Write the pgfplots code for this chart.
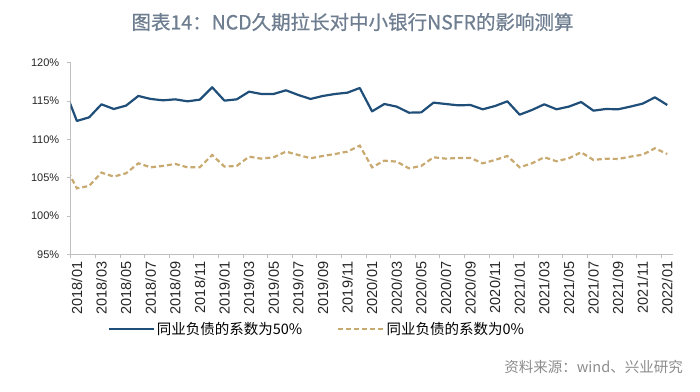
\documentclass[border=0pt]{standalone}
\usepackage{fontspec}
\setmainfont{Liberation Sans}
\newfontfamily\cjk{Noto Sans CJK SC}
\newfontfamily\cjkt[FakeBold=0.7]{Noto Sans CJK SC}
\usepackage{pgfplots}
\pgfplotsset{compat=1.18}
\definecolor{navy}{HTML}{1F4E79}
\definecolor{tan}{HTML}{C8A970}
\definecolor{titlec}{HTML}{6E7E90}
\definecolor{srcc}{HTML}{8C8C8C}
\definecolor{axisc}{HTML}{BFBFBF}
\begin{document}
\begin{tikzpicture}[x=1pt,y=1pt]
\useasboundingbox (0,0) rectangle (700,391);
\begin{axis}[
  scale only axis, width=602.7pt, height=191.6pt,
  at={(70.7pt,136.7pt)}, anchor=south west,
  xmin=-0.5, xmax=48.5, ymin=95, ymax=120,
  axis x line*=bottom, axis y line*=left,
  axis line style={-, draw=axisc, line width=0.8pt},
  tick align=outside, major tick length=4pt, minor tick length=4pt,
  tick style={draw=axisc, line width=0.8pt},
  every major x tick/.append style={draw=none},
  xtick={0,2,...,48},
  minor xtick={-0.5,1.5,...,47.5},
  xticklabels={2018/01,2018/03,2018/05,2018/07,2018/09,2018/11,2019/01,2019/03,2019/05,2019/07,2019/09,2019/11,2020/01,2020/03,2020/05,2020/07,2020/09,2020/11,2021/01,2021/03,2021/05,2021/07,2021/09,2021/11,2022/01},
  xticklabel style={rotate=90, anchor=east, font=\fontsize{14.5}{16}\selectfont, text=black!85},
  ytick={95,100,...,120},
  yticklabel={\pgfmathprintnumber{\tick}\%},
  yticklabel style={font=\fontsize{11}{13}\selectfont, text=black!85, xshift=-4pt},
  /pgf/number format/assume math mode=true,
  legend columns=2,
  legend style={draw=none, fill=none, inner sep=0pt, at={(0.061,-0.39)}, anchor=west,
    font=\cjk\fontsize{14.5}{16}\selectfont,
    /tikz/every even column/.append style={column sep=33pt}},
  legend image code/.code={\draw[#1] (0pt,0pt) -- (45pt,0pt);},
]
\addplot[navy, line width=2.2pt, line join=round] coordinates {
(-1,116.56)(0,112.40)(1,112.87)(2,114.57)(3,113.96)(4,114.40)(5,115.66)(6,115.27)(7,115.09)(8,115.22)
(9,114.96)(10,115.18)(11,116.79)(12,115.05)(13,115.22)(14,116.22)(15,115.92)(16,115.92)(17,116.40)
(18,115.79)(19,115.27)(20,115.66)(21,115.92)(22,116.09)(23,116.70)(24,113.65)(25,114.61)(26,114.27)
(27,113.48)(28,113.52)(29,114.79)(30,114.61)(31,114.44)(32,114.48)(33,113.92)(34,114.35)(35,114.96)
(36,113.22)(37,113.83)(38,114.57)(39,113.92)(40,114.27)(41,114.87)(42,113.74)(43,113.96)(44,113.92)
(45,114.27)(46,114.66)(47,115.48)(48,114.48)};
\addlegendentry{同业负债的系数为50\%}
\addplot[tan, line width=2.2pt, dash pattern=on 5pt off 3pt] coordinates {
(-1,106.67)(0,103.61)(1,103.92)(2,105.66)(3,105.14)(4,105.57)(5,106.87)(6,106.35)(7,106.53)(8,106.79)
(9,106.35)(10,106.35)(11,107.96)(12,106.44)(13,106.53)(14,107.74)(15,107.48)(16,107.66)(17,108.40)
(18,107.96)(19,107.53)(20,107.83)(21,108.09)(22,108.40)(23,109.18)(24,106.35)(25,107.22)(26,107.09)
(27,106.22)(28,106.53)(29,107.66)(30,107.48)(31,107.57)(32,107.57)(33,106.87)(34,107.31)(35,107.83)
(36,106.35)(37,106.87)(38,107.66)(39,107.14)(40,107.53)(41,108.31)(42,107.31)(43,107.48)(44,107.44)
(45,107.74)(46,108.00)(47,108.83)(48,108.09)};
\addlegendentry{同业负债的系数为0\%}
\end{axis}
\node[text=titlec, font=\cjkt\fontsize{19.5}{22}\selectfont] at (352.5,369) {图表14：NCD久期拉长对中小银行NSFR的影响测算};
\node[anchor=east, text=srcc, font=\cjk\fontsize{14.5}{16}\selectfont, inner sep=0pt] at (683,24) {资料来源：wind、兴业研究};
\end{tikzpicture}
\end{document}
